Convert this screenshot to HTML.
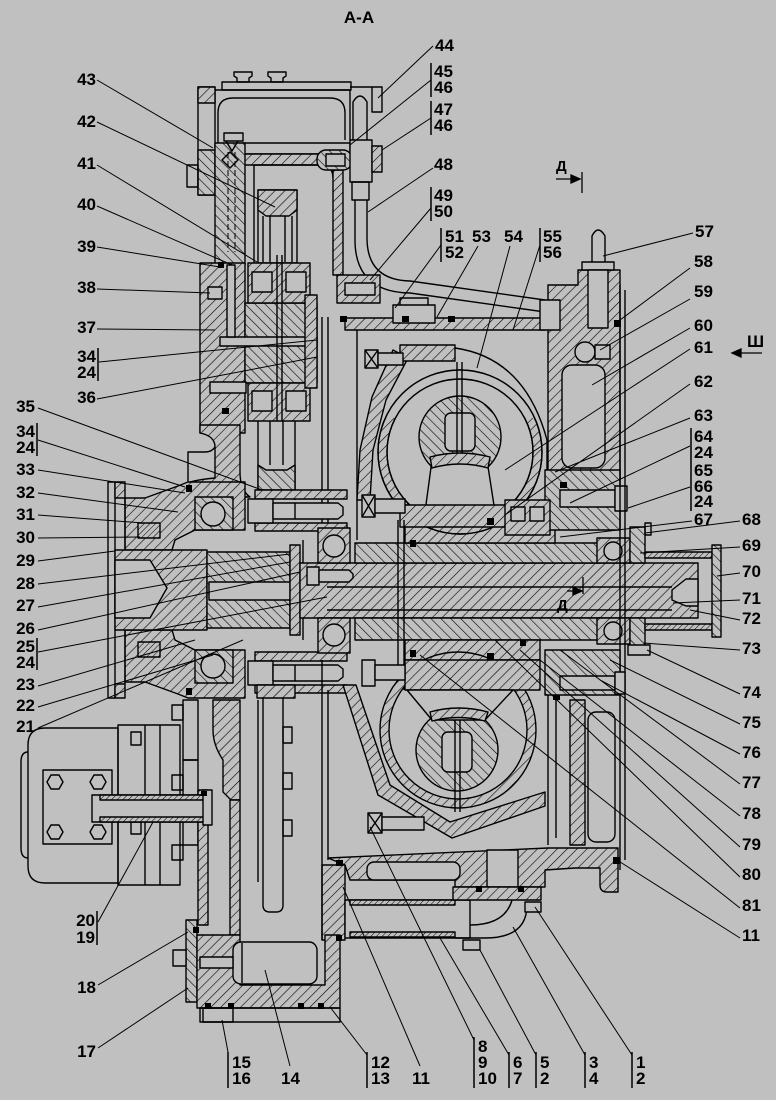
<!DOCTYPE html>
<html><head><meta charset="utf-8">
<style>
html,body{margin:0;padding:0;background:#c0c0c0;}
svg{display:block;}
text{font-family:"Liberation Sans",Arial,sans-serif;font-weight:bold;font-size:17px;fill:#000;}
</style></head><body>
<svg width="776" height="1100" viewBox="0 0 776 1100" xmlns="http://www.w3.org/2000/svg">
<defs>
<pattern id="h" width="7" height="7" patternUnits="userSpaceOnUse" patternTransform="rotate(45)"><rect width="7" height="7" fill="#c0c0c0"/><line x1="0" y1="0" x2="0" y2="7" stroke="#000" stroke-width="1.2"/></pattern>
<pattern id="g" width="7" height="7" patternUnits="userSpaceOnUse" patternTransform="rotate(-45)"><rect width="7" height="7" fill="#c0c0c0"/><line x1="0" y1="0" x2="0" y2="7" stroke="#000" stroke-width="1.2"/></pattern>
<pattern id="f" width="4" height="4" patternUnits="userSpaceOnUse" patternTransform="rotate(45)"><rect width="4" height="4" fill="#c0c0c0"/><line x1="0" y1="0" x2="0" y2="4" stroke="#000" stroke-width="1"/></pattern>
<clipPath id="tc"><rect x="300" y="300" width="300" height="118"/></clipPath>
</defs>
<rect width="776" height="1100" fill="#c0c0c0"/>

<g fill="none" stroke="#000" stroke-width="1.4" stroke-linejoin="round">
<!-- ===== TOP PUMP ===== -->
<path d="M234 72h18v4l-3 2v4h-12v-4l-3-2z"/>
<path d="M268 72h18v4l-3 2v4h-12v-4l-3-2z"/>
<rect x="222" y="82" width="129" height="8"/>
<path d="M215 90H350V140"/>
<path d="M218 143V113Q218 98 233 98H330Q345 98 345 113V140"/>
<rect x="198" y="87" width="17" height="108"/>
<rect x="198" y="87" width="17" height="16" fill="url(#h)"/>
<rect x="198" y="150" width="17" height="45" fill="url(#g)"/>
<rect x="187" y="165" width="11" height="22"/>
<rect x="243" y="143" width="107" height="11"/>
<rect x="240" y="154" width="80" height="11" fill="url(#h)"/>
<path d="M254 300V165H320Q333 165 333 178"/>
<rect x="333" y="170" width="10" height="105" fill="url(#h)"/>
<rect x="215" y="143" width="30" height="122" fill="url(#g)"/>
<path d="M228 152V252M235 152V252" stroke-dasharray="6 3" stroke-width="1"/>
<path d="M222 160l8-8 8 8-8 8z"/>
<rect x="224" y="133" width="19" height="8"/>
<path d="M226 141l6 10 6-10"/>
<rect x="258" y="190" width="39" height="73" fill="#c0c0c0"/>
<path d="M258 190h39v20l-8 6h-23l-8-6z" fill="url(#h)"/>
<path d="M263 216V262M270 216V262M285 216V262M292 216V262"/>
<rect x="317" y="150" width="35" height="20" rx="9" fill="url(#g)"/>
<rect x="326" y="154" width="19" height="12" fill="#c0c0c0"/>
<rect x="350" y="140" width="22" height="42" fill="#c0c0c0"/>
<rect x="372" y="146" width="10" height="26" fill="url(#h)"/>
<path d="M350 87H372"/>
<rect x="372" y="87" width="10" height="25"/>
<path d="M353 140V102Q360 90 367 102V140"/>
<rect x="352" y="182" width="17" height="18"/>
<path d="M355 200V240Q355 292 410 293L545 312"/>
<path d="M367 200V238Q367 280 410 281L545 300"/>

<!-- ===== MIDDLE LEFT BLOCK ===== -->
<rect x="200" y="263" width="45" height="170" fill="url(#h)"/>
<rect x="245" y="303" width="72" height="80" fill="url(#g)"/>
<rect x="220" y="337" width="97" height="9" fill="#c0c0c0"/>
<rect x="227" y="265" width="8" height="72" fill="#c0c0c0"/>
<rect x="248" y="263" width="62" height="40" fill="url(#h)"/>
<rect x="252" y="272" width="20" height="20" fill="#c0c0c0"/>
<rect x="286" y="272" width="20" height="20" fill="#c0c0c0"/>
<rect x="248" y="383" width="62" height="38" fill="url(#h)"/>
<rect x="252" y="391" width="20" height="20" fill="#c0c0c0"/>
<rect x="286" y="391" width="20" height="20" fill="#c0c0c0"/>
<path d="M277 255V421M282 255V421"/>
<rect x="305" y="295" width="12" height="93" fill="url(#h)"/>
<path d="M322 317V540M328 317V540"/>
<rect x="208" y="287" width="14" height="12" fill="#c0c0c0"/>
<rect x="210" y="382" width="36" height="11" fill="#c0c0c0"/>
<path d="M200 425H240V472Q240 490 250 497H178V487Q190 480 215 478V447Q215 436 200 433Z" fill="url(#h)"/>
<path d="M215 447Q212 452 205 452H188V487"/>
<path d="M258 421V500M295 421V500M270 421V465M283 421V465"/>
<path d="M258 465L266 470H287L295 465V490H258Z" fill="url(#g)"/>

<!-- ===== COUPLING ===== -->
<path d="M125 498H145L178 486L188 482H245V530H195L175 540L172 550H125Z" fill="url(#h)"/>
<rect x="195" y="497" width="38" height="33" fill="url(#g)"/>
<circle cx="213" cy="514" r="12" fill="#c0c0c0"/>
<path d="M125 682H145L178 694L188 698H245V650H195L175 640L172 630H125Z" fill="url(#h)"/>
<rect x="195" y="650" width="38" height="33" fill="url(#g)"/>
<circle cx="213" cy="666" r="12" fill="#c0c0c0"/>
<rect x="108" y="482" width="7" height="216" fill="#c0c0c0"/>
<rect x="115" y="482" width="10" height="16" fill="url(#h)"/>
<rect x="115" y="684" width="10" height="14" fill="url(#h)"/>
<path d="M125 498V684"/>
<rect x="115" y="550" width="92" height="80" fill="url(#h)"/>
<path d="M115 560H150L167 588L150 618H115Z" fill="#c0c0c0"/>
<rect x="138" y="523" width="22" height="15" fill="url(#f)"/>
<rect x="138" y="642" width="22" height="15" fill="url(#f)"/>
<rect x="207" y="552" width="83" height="76" fill="url(#g)"/>
<rect x="209" y="582" width="81" height="18" fill="#c0c0c0"/>
<rect x="290" y="545" width="10" height="90" fill="url(#h)"/>
<path d="M303 540V640"/>
<rect x="255" y="490" width="92" height="9" fill="url(#h)"/>
<rect x="255" y="523" width="92" height="8" fill="url(#h)"/>
<rect x="248" y="499" width="25" height="24" fill="#c0c0c0"/>
<path d="M273 503H338L343 507V515L338 519H273Z" fill="#c0c0c0"/>
<path d="M295 503V519"/>
<rect x="255" y="652" width="92" height="9" fill="url(#h)"/>
<rect x="255" y="685" width="92" height="8" fill="url(#h)"/>
<rect x="248" y="661" width="25" height="24" fill="#c0c0c0"/>
<path d="M273 665H338L343 669V677L338 681H273Z" fill="#c0c0c0"/>
<path d="M295 665V681"/>

<!-- ===== SHAFT ===== -->
<rect x="300" y="563" width="398" height="55" fill="url(#h)"/>
<path d="M327 587H672M327 610H672"/>
<path d="M672 590L686 579H698V606H686L672 600Z" fill="#c0c0c0"/>
<rect x="318" y="528" width="32" height="35" fill="url(#h)"/>
<circle cx="334" cy="546" r="11" fill="#c0c0c0"/>
<rect x="318" y="618" width="32" height="35" fill="url(#h)"/>
<circle cx="334" cy="635" r="11" fill="#c0c0c0"/>
<rect x="307" y="567" width="12" height="18" fill="#c0c0c0"/>
<path d="M319 570H349L353 574V578L349 582H319Z" fill="#c0c0c0"/>
<rect x="355" y="543" width="245" height="20" fill="url(#g)"/>
<rect x="405" y="518" width="150" height="25" fill="url(#h)"/>
<rect x="355" y="618" width="245" height="22" fill="url(#g)"/>
<rect x="405" y="640" width="135" height="20" fill="url(#h)"/>
<rect x="597" y="538" width="33" height="25" fill="url(#h)"/>
<circle cx="613" cy="551" r="9" fill="#c0c0c0"/>
<rect x="597" y="618" width="33" height="26" fill="url(#h)"/>
<circle cx="613" cy="631" r="9" fill="#c0c0c0"/>
<rect x="630" y="527" width="15" height="36" fill="url(#g)"/>
<rect x="630" y="618" width="15" height="32" fill="url(#g)"/>
<rect x="645" y="523" width="6" height="12"/>
<rect x="628" y="645" width="22" height="10" fill="#c0c0c0"/>
<rect x="645" y="552" width="67" height="6" fill="url(#f)"/>
<rect x="645" y="624" width="67" height="6" fill="url(#f)"/>
<rect x="712" y="545" width="9" height="92" fill="url(#g)"/>

<!-- ===== UPPER TORUS ===== -->
<path d="M357 325V540"/>
<rect x="337" y="275" width="43" height="28" fill="url(#h)"/>
<rect x="345" y="283" width="30" height="12" fill="#c0c0c0"/>
<rect x="345" y="318" width="200" height="12" fill="url(#h)"/>
<rect x="393" y="305" width="42" height="18" fill="#c0c0c0"/>
<path d="M400 305V298H428V305"/>
<path d="M400 348H455Q525 358 547 440V500"/>
<path d="M393 350L408 358L386 400L373 450L370 500H357L360 450L372 397Z" fill="url(#h)"/>
<path fill-rule="evenodd" fill="url(#h)" d="M378 452a82 82 0 1 0 164 0a82 82 0 1 0 -164 0ZM387 452a73 73 0 1 0 146 0a73 73 0 1 0 -146 0Z"/>
<path fill-rule="evenodd" fill="#c0c0c0" stroke="none" clip-path="url(#tc)" d="M378 452a82 82 0 1 0 164 0a82 82 0 1 0 -164 0ZM387 452a73 73 0 1 0 146 0a73 73 0 1 0 -146 0Z"/>
<circle cx="460" cy="452" r="82"/>
<circle cx="460" cy="452" r="73"/>
<circle cx="460" cy="437" r="41" fill="url(#g)"/>
<rect x="445" y="413" width="30" height="38" rx="6" fill="#c0c0c0"/>
<path d="M457 362V462M462 362V462"/>
<path d="M432 460L487 460L495 512L425 512Z" fill="#c0c0c0"/>
<path d="M430 457Q460 449 490 457L488 468Q460 460 432 468Z" fill="url(#h)"/>
<rect x="400" y="505" width="145" height="22" fill="url(#h)"/>
<rect x="400" y="345" width="55" height="16" fill="url(#h)"/>
<rect x="365" y="350" width="13" height="18" fill="#c0c0c0"/>
<path d="M365 350L378 368M378 350L365 368"/>
<rect x="378" y="353" width="25" height="12" fill="#c0c0c0"/>
<rect x="362" y="495" width="13" height="22" fill="#c0c0c0"/>
<path d="M362 495L375 517M375 495L362 517"/>
<rect x="375" y="499" width="30" height="14" fill="#c0c0c0"/>
<path d="M398 520V690M404 520V690"/>

<!-- right upper housing -->
<path d="M548 285H578V270H620V480H548Z" fill="url(#h)"/>
<rect x="562" y="365" width="43" height="103" rx="10" fill="#c0c0c0"/>
<path d="M592 265V236Q598 224 605 236V265"/>
<rect x="582" y="262" width="32" height="8" fill="#c0c0c0"/>
<rect x="588" y="270" width="20" height="58" fill="#c0c0c0"/>
<circle cx="585" cy="352" r="10" fill="#c0c0c0"/>
<rect x="595" y="345" width="15" height="14" fill="#c0c0c0"/>
<rect x="540" y="300" width="20" height="30" fill="#c0c0c0"/>
<rect x="545" y="470" width="75" height="60" fill="url(#g)"/>
<rect x="505" y="500" width="45" height="35" fill="url(#h)"/>
<rect x="511" y="507" width="14" height="14" fill="#c0c0c0"/>
<rect x="530" y="507" width="14" height="14" fill="#c0c0c0"/>
<rect x="560" y="490" width="55" height="17" fill="#c0c0c0"/>
<rect x="615" y="486" width="12" height="25" fill="#c0c0c0"/>
<path d="M620 285V870M625 290V860"/>

<!-- ===== LOWER TORUS ===== -->
<path d="M343 685L356 685L390 785L450 822L545 792V806L452 838L378 795Z" fill="url(#h)"/>
<path fill-rule="evenodd" fill="url(#h)" d="M380 730a78 78 0 1 0 156 0a78 78 0 1 0 -156 0ZM389 730a69 69 0 1 0 138 0a69 69 0 1 0 -138 0Z"/>
<circle cx="457" cy="750" r="41" fill="url(#g)"/>
<rect x="442" y="732" width="30" height="40" rx="6" fill="#c0c0c0"/>
<path d="M455 715V812M460 715V812"/>
<rect x="405" y="660" width="135" height="30" fill="url(#h)"/>
<path d="M407 690L513 690L485 720L432 720Z" fill="#c0c0c0"/>
<path d="M430 712Q458 704 488 712L485 721Q458 714 432 721Z" fill="url(#h)"/>
<rect x="368" y="813" width="14" height="20" fill="#c0c0c0"/>
<path d="M368 813L382 833M382 813L368 833"/>
<rect x="382" y="817" width="42" height="13" fill="#c0c0c0"/>
<rect x="362" y="660" width="13" height="26" fill="#c0c0c0"/>
<rect x="375" y="665" width="30" height="15" fill="#c0c0c0"/>

<!-- right lower housing -->
<rect x="545" y="650" width="75" height="45" fill="url(#g)"/>
<rect x="560" y="676" width="55" height="14" fill="#c0c0c0"/>
<rect x="615" y="672" width="10" height="22" fill="#c0c0c0"/>
<rect x="570" y="700" width="15" height="145" fill="url(#h)"/>
<rect x="588" y="712" width="27" height="130" rx="8"/>
<path d="M548 695V845M556 700V838"/>

<!-- bottom housing -->
<path d="M328 858L548 848H618V892H607Q600 892 600 885V868H575L545 870V887H455V880H350L345 865Z" fill="url(#h)"/>
<rect x="367" y="862" width="93" height="18" rx="7" fill="#c0c0c0"/>
<rect x="487" y="850" width="31" height="37" fill="#c0c0c0"/>
<rect x="322" y="865" width="23" height="75" fill="url(#h)"/>
<rect x="345" y="900" width="125" height="38" fill="#c0c0c0"/>
<rect x="350" y="900" width="105" height="5" fill="url(#f)"/>
<rect x="350" y="932" width="105" height="5" fill="url(#f)"/>
<rect x="453" y="887" width="88" height="13" fill="url(#h)"/>
<path d="M455 938H485Q527 938 527 905M470 925Q505 925 512 900"/>
<rect x="463" y="940" width="17" height="10" fill="#c0c0c0"/>
<rect x="525" y="902" width="16" height="10" fill="#c0c0c0"/>

<!-- ===== BOTTOM LEFT ===== -->
<path d="M322 660V940M328 690V860M258 700V882"/>
<rect x="257" y="685" width="38" height="13" fill="url(#h)"/>
<path d="M263 698V905Q263 912 270 912H276Q283 912 283 905V698"/>
<rect x="283" y="727" width="9" height="16"/>
<rect x="283" y="773" width="9" height="16"/>
<rect x="283" y="820" width="9" height="16"/>
<path d="M213 700H240V800H231L223 792V760Q213 745 213 730Z" fill="url(#h)"/>
<rect x="183" y="700" width="15" height="60"/>
<rect x="183" y="760" width="15" height="85"/>
<rect x="172" y="705" width="11" height="15"/>
<rect x="172" y="775" width="11" height="15"/>
<rect x="172" y="845" width="11" height="15"/>
<rect x="198" y="790" width="10" height="135" fill="url(#h)"/>
<rect x="230" y="800" width="10" height="135" fill="url(#h)"/>
<!-- motor -->
<path d="M118 728H45Q28 728 28 745V866Q28 883 45 883H118Z" fill="#c0c0c0"/>
<path d="M28 752Q21 752 21 762V848Q21 858 28 858"/>
<rect x="43" y="770" width="69" height="74"/>
<polygon points="63,782 59,789 51,789 47,782 51,775 59,775"/>
<polygon points="106,782 102,789 94,789 90,782 94,775 102,775"/>
<polygon points="63,832 59,839 51,839 47,832 51,825 59,825"/>
<polygon points="106,832 102,839 94,839 90,832 94,825 102,825"/>
<rect x="118" y="725" width="62" height="160"/>
<path d="M145 725V885M160 725V885"/>
<rect x="131" y="732" width="10" height="13"/>
<rect x="131" y="822" width="10" height="12"/>
<rect x="92" y="795" width="118" height="27" fill="#c0c0c0"/>
<rect x="100" y="795" width="105" height="5" fill="url(#f)"/>
<rect x="100" y="817" width="105" height="5" fill="url(#f)"/>
<rect x="203" y="790" width="9" height="35" fill="#c0c0c0"/>
<!-- chamber -->
<rect x="186" y="920" width="11" height="82" fill="url(#g)"/>
<rect x="173" y="950" width="13" height="16" fill="#c0c0c0"/>
<path d="M197 935H240V985H325V935H340V1008H197Z" fill="url(#h)"/>
<rect x="233" y="942" width="84" height="42" rx="8" fill="#c0c0c0"/>
<path d="M242 943V983"/>
<rect x="200" y="957" width="33" height="11" fill="#c0c0c0"/>
<rect x="200" y="1008" width="140" height="14"/>
<rect x="203" y="1008" width="30" height="14"/>
</g>

<!-- seals -->
<g fill="#000">
<rect x="218" y="262" width="6" height="6"/><rect x="222" y="408" width="7" height="6"/>
<rect x="340" y="316" width="7" height="6"/><rect x="402" y="316" width="7" height="6"/><rect x="448" y="316" width="7" height="6"/>
<rect x="614" y="320" width="7" height="7"/><rect x="487" y="518" width="7" height="7"/><rect x="560" y="482" width="7" height="6"/>
<rect x="410" y="540" width="6" height="7"/><rect x="410" y="650" width="6" height="7"/><rect x="487" y="653" width="7" height="7"/>
<rect x="520" y="640" width="6" height="6"/><rect x="553" y="695" width="7" height="5"/><rect x="613" y="857" width="7" height="7"/>
<rect x="336" y="860" width="7" height="6"/><rect x="336" y="935" width="6" height="6"/><rect x="476" y="886" width="6" height="6"/>
<rect x="518" y="886" width="6" height="6"/><rect x="193" y="927" width="6" height="6"/><rect x="205" y="1003" width="6" height="6"/>
<rect x="228" y="1003" width="6" height="6"/><rect x="298" y="1003" width="6" height="6"/><rect x="318" y="1003" width="6" height="6"/>
<rect x="186" y="485" width="6" height="7"/><rect x="186" y="688" width="6" height="7"/><rect x="201" y="791" width="6" height="5"/>
</g>

<!-- leader lines -->
<g stroke="#000" stroke-width="1" fill="none">
<path d="M97 80L213 148M97 122L275 207M97 165L257 262M97 206L232 265M97 247L220 267M97 289L210 293M97 329L215 330M99 362L317 340M97 399L317 357"/>
<path d="M38 408L262 490M38 440L185 487M38 470L185 493M38 493L178 512M38 515L143 523M38 538L140 537M38 561L115 551M38 584L290 554M38 607L290 562M38 630L300 572M38 652L327 597M38 686L195 640M38 707L213 655M38 728L243 640"/>
<path d="M98 922L153 822M98 985L188 932M98 1048L188 988"/>
<path d="M228 1052L222 1020M290 1066L265 970M367 1055L330 1007M420 1066L343 887M474 1040L370 827M509 1055L440 938M536 1055L480 950M585 1055L513 927M632 1055L535 907"/>
<path d="M433 46L378 98M431 80L350 145M431 118L382 150M433 168L368 212M431 208L370 280M441 245L395 308M478 246L437 317M510 246L477 368M540 245L513 330"/>
<path d="M693 233L603 256M690 268L620 320M690 299L600 350M690 328L592 385M690 349L505 470M690 384L505 515M690 418L555 472M690 446L570 503M690 487L628 508M692 521L560 537M740 521L645 533M740 547L640 553M740 573L717 576M740 600L673 603M740 620L690 610M740 650L643 643M740 694L647 650"/>
<path d="M740 724L610 660M740 754L600 680M740 784L560 650M740 816L540 660M740 847L520 650M740 877L495 640M740 908L420 655M740 938L617 860"/>
</g>

<!-- bars -->
<g stroke="#000" stroke-width="1.5">
<path d="M98 348V381M37 423V456M37 638V670M97 911V945"/>
<path d="M228 1052V1088M367 1052V1088M474 1037V1088M509 1052V1088M536 1052V1088M585 1052V1088M632 1052V1088"/>
<path d="M431 63V97M431 101V135M431 187V221M441 228V262M540 228V262M691 428V462M691 462V511"/>
</g>

<!-- section markers -->
<g stroke="#000" stroke-width="1.3" fill="#000">
<path d="M556 179H576" fill="none"/><path d="M580 179L571 175V183Z"/><path d="M582 172V193" fill="none"/>
<path d="M567 591H578" fill="none"/><path d="M582 591L573 587V595Z"/><path d="M583 577V594" fill="none"/>
<path d="M762 353H738" fill="none"/><path d="M732 353L741 349V357Z"/>
</g>

<!-- labels -->
<text x="359" y="23" text-anchor="middle">А-А</text>
<text x="556" y="171" style="font-size:15px">Д</text>
<text x="557" y="610" style="font-size:15px">Д</text>
<text x="747" y="347">Ш</text>

<g text-anchor="end">
<text x="96" y="85">43</text><text x="96" y="127">42</text><text x="96" y="169">41</text><text x="96" y="210">40</text>
<text x="96" y="252">39</text><text x="96" y="293">38</text><text x="96" y="333">37</text><text x="96" y="362">34</text>
<text x="96" y="378">24</text><text x="96" y="403">36</text>
<text x="35" y="412">35</text><text x="35" y="437">34</text><text x="35" y="453">24</text><text x="35" y="475">33</text>
<text x="35" y="498">32</text><text x="35" y="520">31</text><text x="35" y="543">30</text><text x="35" y="566">29</text>
<text x="35" y="589">28</text><text x="35" y="611">27</text><text x="35" y="634">26</text><text x="35" y="652">25</text>
<text x="35" y="668">24</text><text x="35" y="690">23</text><text x="35" y="711">22</text><text x="35" y="732">21</text>
<text x="95" y="926">20</text><text x="95" y="943">19</text><text x="96" y="993">18</text><text x="96" y="1057">17</text>
</g>

<text x="232" y="1068">15</text><text x="232" y="1084">16</text>
<text x="281" y="1084">14</text>
<text x="371" y="1068">12</text><text x="371" y="1084">13</text>
<text x="412" y="1084">11</text>
<text x="478" y="1052">8</text><text x="478" y="1068">9</text><text x="478" y="1084">10</text>
<text x="513" y="1068">6</text><text x="513" y="1084">7</text>
<text x="540" y="1068">5</text><text x="540" y="1084">2</text>
<text x="589" y="1068">3</text><text x="589" y="1084">4</text>
<text x="636" y="1068">1</text><text x="636" y="1084">2</text>

<text x="435" y="51">44</text>
<text x="434" y="77">45</text><text x="434" y="93">46</text>
<text x="434" y="115">47</text><text x="434" y="131">46</text>
<text x="434" y="170">48</text>
<text x="434" y="201">49</text><text x="434" y="217">50</text>
<text x="445" y="242">51</text><text x="445" y="258">52</text>
<text x="472" y="242">53</text><text x="504" y="242">54</text>
<text x="543" y="242">55</text><text x="543" y="258">56</text>

<text x="695" y="237">57</text><text x="694" y="267">58</text><text x="694" y="297">59</text><text x="694" y="331">60</text>
<text x="694" y="353">61</text><text x="694" y="387">62</text><text x="694" y="421">63</text>
<text x="694" y="442">64</text><text x="694" y="458">24</text>
<text x="694" y="476">65</text><text x="694" y="492">66</text><text x="694" y="507">24</text>
<text x="694" y="525">67</text><text x="742" y="525">68</text><text x="742" y="551">69</text><text x="742" y="577">70</text>
<text x="742" y="604">71</text><text x="742" y="624">72</text><text x="742" y="654">73</text><text x="742" y="698">74</text>
<text x="742" y="728">75</text><text x="742" y="758">76</text><text x="742" y="788">77</text><text x="742" y="819">78</text>
<text x="742" y="850">79</text><text x="742" y="880">80</text><text x="742" y="911">81</text><text x="742" y="941">11</text>
</svg>
</body></html>
